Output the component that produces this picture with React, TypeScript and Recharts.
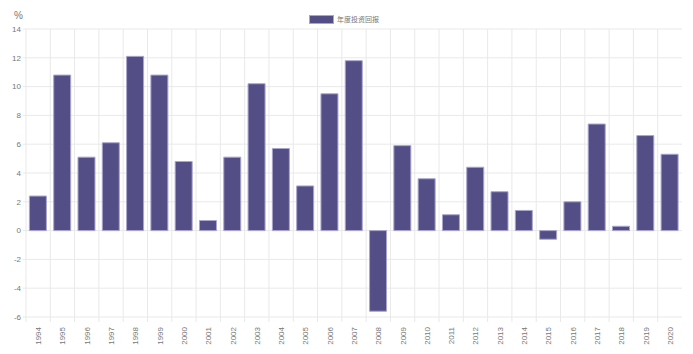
import React from 'react';
import { BarChart, Bar, XAxis, YAxis, CartesianGrid } from 'recharts';

const years = [
  '1994', '1995', '1996', '1997', '1998', '1999', '2000', '2001', '2002',
  '2003', '2004', '2005', '2006', '2007', '2008', '2009', '2010', '2011',
  '2012', '2013', '2014', '2015', '2016', '2017', '2018', '2019', '2020',
];

const returns = [
  2.4, 10.8, 5.1, 6.1, 12.1, 10.8, 4.8, 0.7, 5.1,
  10.2, 5.7, 3.1, 9.5, 11.8, -5.6, 5.9, 3.6, 1.1,
  4.4, 2.7, 1.4, -0.6, 2.0, 7.4, 0.3, 6.6, 5.3,
];

const yTicks = [-6, -4, -2, 0, 2, 4, 6, 8, 10, 12, 14];

const SERIES_NAME = '年度投资回报';

const data = years.map((year, i) => ({ year, value: returns[i] }));

const W = 693;
const H = 354;
const MARGIN = { top: 29, right: 11, bottom: 0, left: 0 };
const Y_AXIS_W = 26;
const X_AXIS_H = 37;
const PLOT_W = W - MARGIN.left - MARGIN.right - Y_AXIS_W;
const STEP = PLOT_W / years.length;

const FONT = '"Liberation Sans", Arial, Helvetica, sans-serif';
const GRID = '#e9e9e9';
const TEXT = '#777';

interface TickProps {
  x?: number;
  y?: number;
  payload?: { value: string };
}

const YearTick = ({ x = 0, y = 0, payload }: TickProps) => (
  <g>
    <line x1={x - STEP / 2} x2={x - STEP / 2} y1={y - 8} y2={y - 3} stroke={GRID} />
    <text
      x={0}
      y={0}
      transform={`translate(${x + 3},${y + 2}) rotate(-90)`}
      textAnchor="end"
      fontSize={8}
      fill={TEXT}
      fontFamily={FONT}
    >
      {payload?.value}
    </text>
  </g>
);

export default function App() {
  return (
    <div style={{ position: 'absolute', left: 0, top: 0, width: W, height: H, fontFamily: FONT }}>
      <div style={{ position: 'absolute', left: 14, top: 10, fontSize: 10, color: TEXT }}>%</div>
      <div
        style={{
          position: 'absolute',
          top: 14,
          left: 309,
          display: 'flex',
          alignItems: 'center',
          fontSize: 7,
          color: TEXT,
        }}
      >
        <span
          style={{
            display: 'inline-block',
            width: 23,
            height: 7,
            background: '#534e85',
            border: '1px solid #a9a5cf',
            marginRight: 3,
          }}
        />
        <span style={{ fontFamily: '"Noto Sans CJK SC", sans-serif' }}>{SERIES_NAME}</span>
      </div>
      <BarChart width={W} height={H} data={data} margin={MARGIN} barCategoryGap="14%">
        <CartesianGrid
          stroke={GRID}
          verticalCoordinatesGenerator={({ offset }: any) =>
            years.map((_, i) => offset.left + i * (offset.width / years.length))
          }
        />
        <XAxis
          dataKey="year"
          height={X_AXIS_H}
          interval={0}
          tickLine={false}
          axisLine={false}
          tick={<YearTick />}
        />
        <YAxis
          width={Y_AXIS_W}
          domain={[-6, 14]}
          ticks={yTicks}
          interval={0}
          axisLine={false}
          tickLine={{ stroke: GRID }}
          tickSize={3}
          tick={{ fontSize: 8, fill: TEXT, fontFamily: FONT }}
        />
        <Bar
          dataKey="value"
          name={SERIES_NAME}
          fill="#534e85"
          stroke="#a9a5cf"
          strokeWidth={1}
          isAnimationActive={false}
        />
      </BarChart>
    </div>
  );
}
